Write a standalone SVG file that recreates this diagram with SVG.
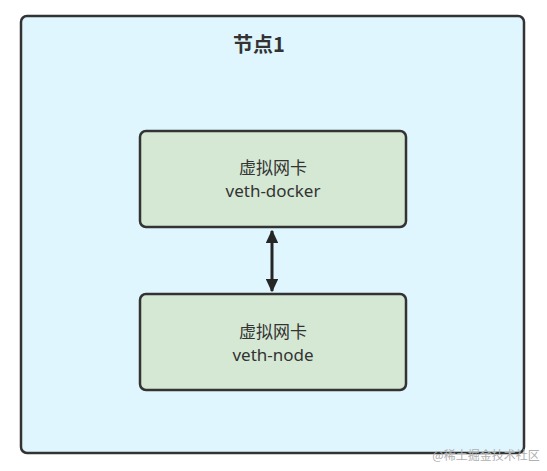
<svg xmlns="http://www.w3.org/2000/svg" width="547" height="471" viewBox="0 0 547 471">
<style>
.node rect{fill:#d5e8d4;stroke:#333333;stroke-width:2.5}
.lbl{font-family:"Noto Sans","Noto Sans CJK SC",sans-serif;font-size:17px;fill:#333333;text-anchor:middle}
</style>
<defs>
<marker id="ah" viewBox="0 0 10 10" refX="9" refY="5" markerWidth="4.5" markerHeight="4.2" orient="auto-start-reverse" markerUnits="strokeWidth" preserveAspectRatio="none">
<path d="M0,0 L10,5 L0,10 Z" fill="#262626"/>
</marker>
</defs>
<rect width="547" height="471" fill="#ffffff"/>
<g id="node1">
<rect x="21" y="16" width="503" height="437" rx="6" fill="#dff6ff" stroke="#333333" stroke-width="2.5"/>
<text x="259" y="52" font-family="'Noto Sans CJK SC','Liberation Sans',sans-serif" font-size="20" font-weight="bold" fill="#333333" text-anchor="middle">节点1</text>
</g>
<g id="veth-docker" class="node">
<rect x="140" y="131" width="266" height="96" rx="6"/>
<text class="lbl" x="273" y="174">虚拟网卡</text>
<text class="lbl" x="273" y="197">veth-docker</text>
</g>
<g id="veth-node" class="node">
<rect x="140" y="294" width="266" height="96" rx="6"/>
<text class="lbl" x="273" y="338">虚拟网卡</text>
<text class="lbl" x="273" y="361">veth-node</text>
</g>
<g id="connectors">
<line x1="272" y1="231" x2="272" y2="291" stroke="#262626" stroke-width="3" marker-start="url(#ah)" marker-end="url(#ah)"/>
</g>
<text x="486" y="460" font-family="'Noto Sans CJK SC',sans-serif" font-size="12" fill="#b0b0b0" text-anchor="middle">@稀土掘金技术社区</text>
</svg>
